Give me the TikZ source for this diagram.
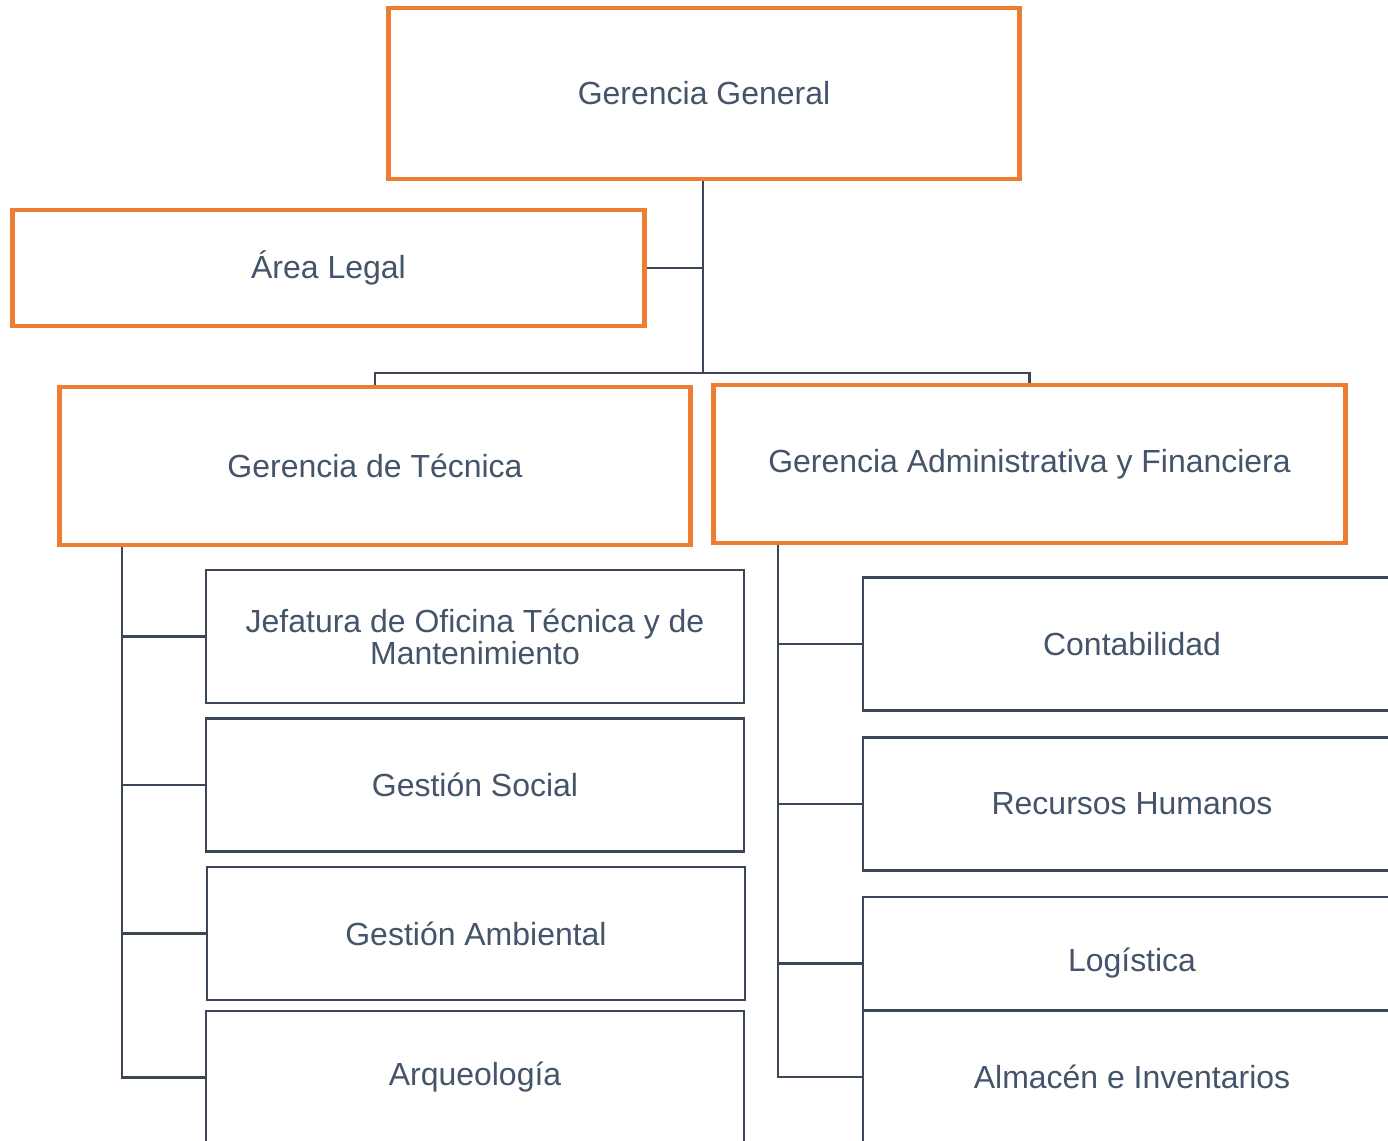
\documentclass[tikz,border=0pt]{standalone}
\usepackage{fontspec}
\setmainfont{Liberation Sans}
\usepackage{xcolor}
\usetikzlibrary{positioning}
\definecolor{naranja}{HTML}{ED7D31}
\definecolor{texto}{HTML}{44546A}
\definecolor{linea}{HTML}{3B4656}

\begin{document}
\begin{tikzpicture}[x=0.02cm, y=-0.02cm, font=\fontsize{18.2}{18.2}\selectfont]
	\tikzstyle{jefe}=[draw=naranja, line width=2.8pt, fill=white, text=texto, minimum width=12.64cm, inner sep=0pt, align=center]
	\tikzstyle{area}=[draw=linea, line width=1.2pt, fill=white, text=texto, minimum width=10.76cm, minimum height=2.66cm, inner sep=0pt, align=center]
	\tikzstyle{link}=[draw=linea, line width=1.2pt]
	
	\clip (0,0) rectangle (1388,1141);
	\fill[white] (0,0) rectangle (1388,1141);
	
	% cabeza y apoyo
	\node[jefe, minimum height=3.42cm] (gg) at (704,93.5) {Gerencia General};
	\node[jefe, minimum height=2.32cm] (legal) at (328.5,268) {Área Legal};
	\node[jefe, minimum height=3.16cm] (gt) at (375,466) {Gerencia de Técnica};
	\node[jefe, minimum height=3.16cm] (gaf) at (1029.5,464) {Gerencia Administrativa y Financiera};
	
	% areas tecnicas
	\node[area] (t1) at (475,636.5) {Jefatura de Oficina Técnica y de\\Mantenimiento};
	\node[area] (t2) at (475,785) {Gestión Social};
	\node[area] (t3) at (476,933.5) {Gestión Ambiental};
	\node[area] (t4) at (475,1077.5) {Arqueología};
	
	% areas administrativas
	\node[area] (a1) at (1132,644) {Contabilidad};
	\node[area] (a2) at (1132,804) {Recursos Humanos};
	\node[area] (a3) at (1132,963.5) {Logística};
	\node[area] (a4) at (1132,1077) {Almacén e Inventarios};
	
	\coordinate (mid) at (703,373);
	\path (gt.south west) ++(65.5,0) coordinate (tl);
	\path (gaf.south west) ++(66.5,0) coordinate (tr);
	
	\path[link] (gg.south -| mid) edge (mid);
	\path[link] (legal.east) edge (legal.east -| mid);
	\draw[link] (mid) -| (gt.north);
	\draw[link] (mid) -| (gaf.north);
	
	\foreach \n in {t1,t2,t3}
		\path[link] (tl |- \n.west) edge (\n.west);
	\draw[link] (tl) |- (t4.west);
	\foreach \n in {a1,a2,a3}
		\path[link] (tr |- \n.west) edge (\n.west);
	\draw[link] (tr) |- (a4.west);
\end{tikzpicture}
\end{document}
